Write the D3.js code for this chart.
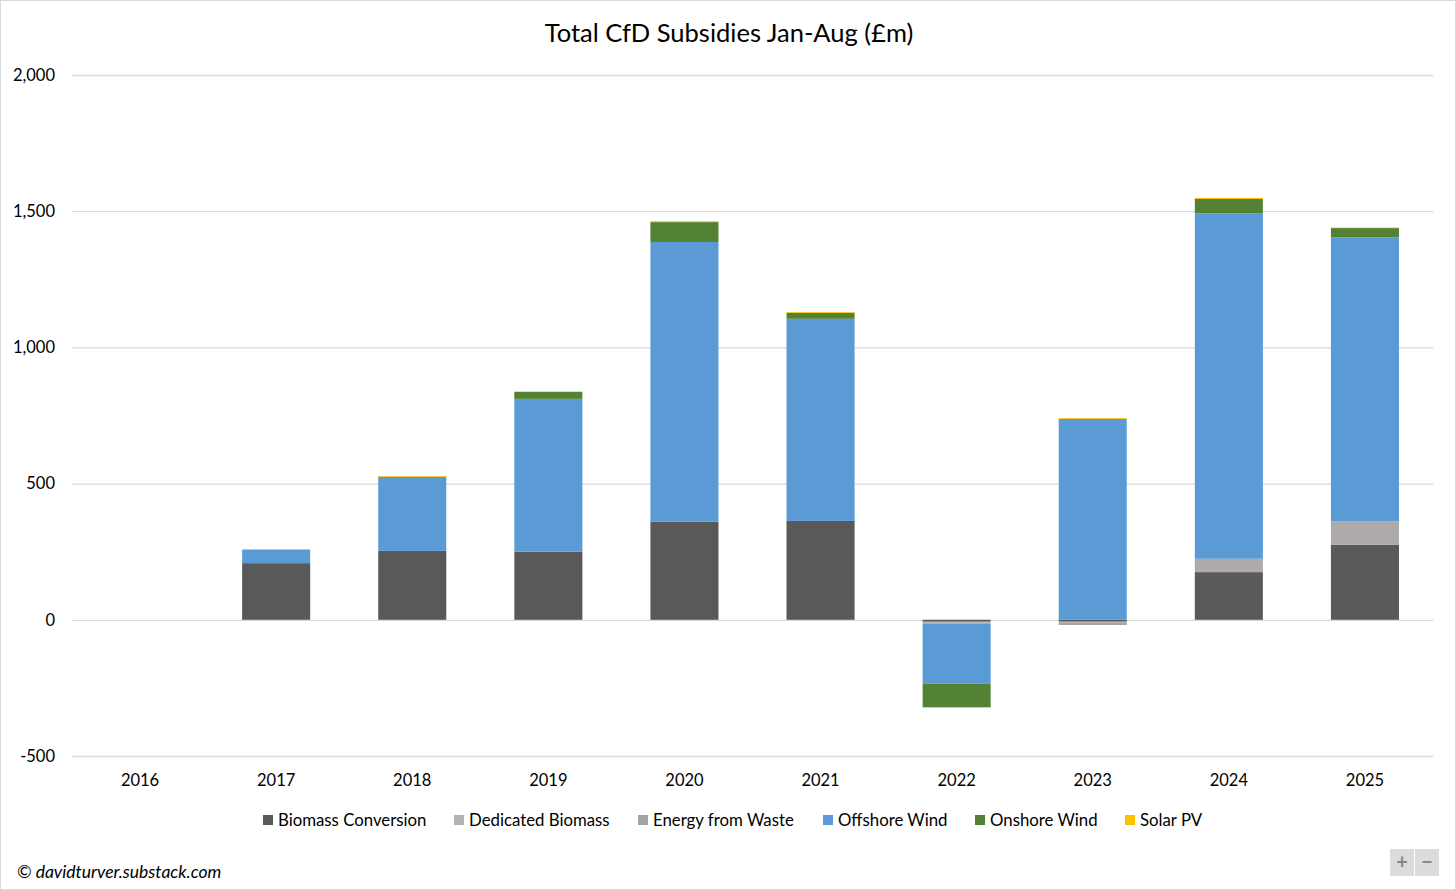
<!DOCTYPE html>
<html>
<head>
<meta charset="utf-8">
<script src="https://cdn.jsdelivr.net/npm/d3@7"></script>
<style>
  body { margin: 0; background: #fff; }
  text { font-family: Lato, "Open Sans", sans-serif; }
</style>
</head>
<body>
<script>
// data (£m)
var years = ["2016", "2017", "2018", "2019", "2020", "2021", "2022", "2023", "2024", "2025"];
var seriesNames = ["Biomass Conversion", "Dedicated Biomass", "Energy from Waste", "Offshore Wind", "Onshore Wind", "Solar PV"];
var biomassConversion = [0, 208, 253, 250, 360, 363, -7, -7, 175, 275];
var dedicatedBiomass  = [0, 0, 0, 0, 0, 0, -2, -4, 49, 86];
var energyFromWaste   = [0, 0, 0, 0, 0, 0, -5, -8, 0, 0];
var offshoreWind      = [0, 50, 272, 561, 1027, 742, -220, 738, 1268, 1043];
var onshoreWind       = [0, 0, 0, 26, 73, 22, -87, 0, 53, 34];
var solarPV           = [0, 1, 3, 1, 3, 3, -2, 3, 4, 2];
var yTicks = [-500, 0, 500, 1000, 1500, 2000];
var colors = ["#595959", "#aeaaaa", "#a5a5a5", "#5b9bd5", "#548235", "#ffc000"];
var legendColors = ["#595959", "#b4b4b4", "#a5a5a5", "#5b9bd5", "#548235", "#ffc000"];

var width = 1456, height = 890;
var margin = {top: 75, right: 23, bottom: 134, left: 72};

var rows = years.map(function(y, i) {
  return {
    year: y,
    "Biomass Conversion": biomassConversion[i],
    "Dedicated Biomass": dedicatedBiomass[i],
    "Energy from Waste": energyFromWaste[i],
    "Offshore Wind": offshoreWind[i],
    "Onshore Wind": onshoreWind[i],
    "Solar PV": solarPV[i]
  };
});

var stacked = d3.stack()
  .keys(seriesNames)
  .offset(d3.stackOffsetDiverging)(rows);

var xScale = d3.scaleBand().domain(years)
  .range([margin.left, width - margin.right])
  .paddingInner(0.5).paddingOuter(0.25);
var yScale = d3.scaleLinear().domain([-500, 2000])
  .range([height - margin.bottom, margin.top]);

var svg = d3.select("body").append("svg")
  .attr("width", width)
  .attr("height", height);

// frame
svg.append("rect")
  .attr("x", 0.5).attr("y", 0.5)
  .attr("width", width - 1).attr("height", height - 1)
  .attr("fill", "#fff").attr("stroke", "#d9d9d9");

// title
svg.append("text")
  .attr("x", width / 2 + 1).attr("y", 42)
  .attr("text-anchor", "middle")
  .style("font-size", "25.5px")
  .attr("fill", "#000")
  .text("Total CfD Subsidies Jan-Aug (£m)");

// gridlines + y labels
var fmt = d3.format(",");
var yAxis = svg.append("g")
  .attr("transform", "translate(" + margin.left + ",0)")
  .call(d3.axisLeft(yScale).tickValues(yTicks)
    .tickSize(-(width - margin.left - margin.right))
    .tickPadding(17)
    .tickFormat(function(d) { return fmt(d).replace("−", "-"); }));
yAxis.select(".domain").remove();
yAxis.selectAll(".tick line").attr("stroke", "#d9d9d9").attr("stroke-width", 1.3);
yAxis.selectAll(".tick text").style("font-size", "16.5px").attr("fill", "#000");

// bars
svg.append("g").selectAll("g")
  .data(stacked)
  .join("g")
  .attr("fill", function(d, i) { return colors[i]; })
  .selectAll("rect")
  .data(function(d) { return d; })
  .join("rect")
  .attr("x", function(d) { return xScale(d.data.year); })
  .attr("width", xScale.bandwidth())
  .attr("y", function(d) { return yScale(Math.max(d[0], d[1])); })
  .attr("height", function(d) { return Math.abs(yScale(d[0]) - yScale(d[1])); });

// x labels
var xAxis = svg.append("g")
  .attr("transform", "translate(0," + (height - margin.bottom) + ")")
  .call(d3.axisBottom(xScale).tickSize(0).tickPadding(18));
xAxis.select(".domain").remove();
xAxis.selectAll(".tick text").style("font-size", "16.5px").attr("fill", "#000");

// legend
var legendX = [263, 454, 638, 823, 975, 1125];
var legend = svg.append("g").selectAll("g")
  .data(seriesNames)
  .join("g")
  .attr("transform", function(d, i) { return "translate(" + legendX[i] + ",815)"; });
legend.append("rect")
  .attr("width", 10).attr("height", 10)
  .attr("fill", function(d, i) { return legendColors[i]; });
legend.append("text")
  .attr("x", 15).attr("y", 10.5)
  .style("font-size", "16.8px")
  .attr("fill", "#000")
  .text(function(d) { return d; });

// watermark
svg.append("text")
  .attr("x", 17).attr("y", 878)
  .style("font-size", "17.5px")
  .style("font-style", "italic")
  .attr("fill", "#000")
  .text("© davidturver.substack.com");

// zoom buttons
var btn = svg.append("g").selectAll("g")
  .data(["+", "−"])
  .join("g")
  .attr("transform", function(d, i) { return "translate(" + (1390 + i * 25) + ",849)"; });
btn.append("rect")
  .attr("width", 24).attr("height", 27)
  .attr("fill", "#dcdcdc");
btn.append("text")
  .attr("x", 12).attr("y", 20)
  .attr("text-anchor", "middle")
  .style("font-size", "20px")
  .style("font-weight", "bold")
  .attr("fill", "#888")
  .text(function(d) { return d; });
</script>
</body>
</html>
